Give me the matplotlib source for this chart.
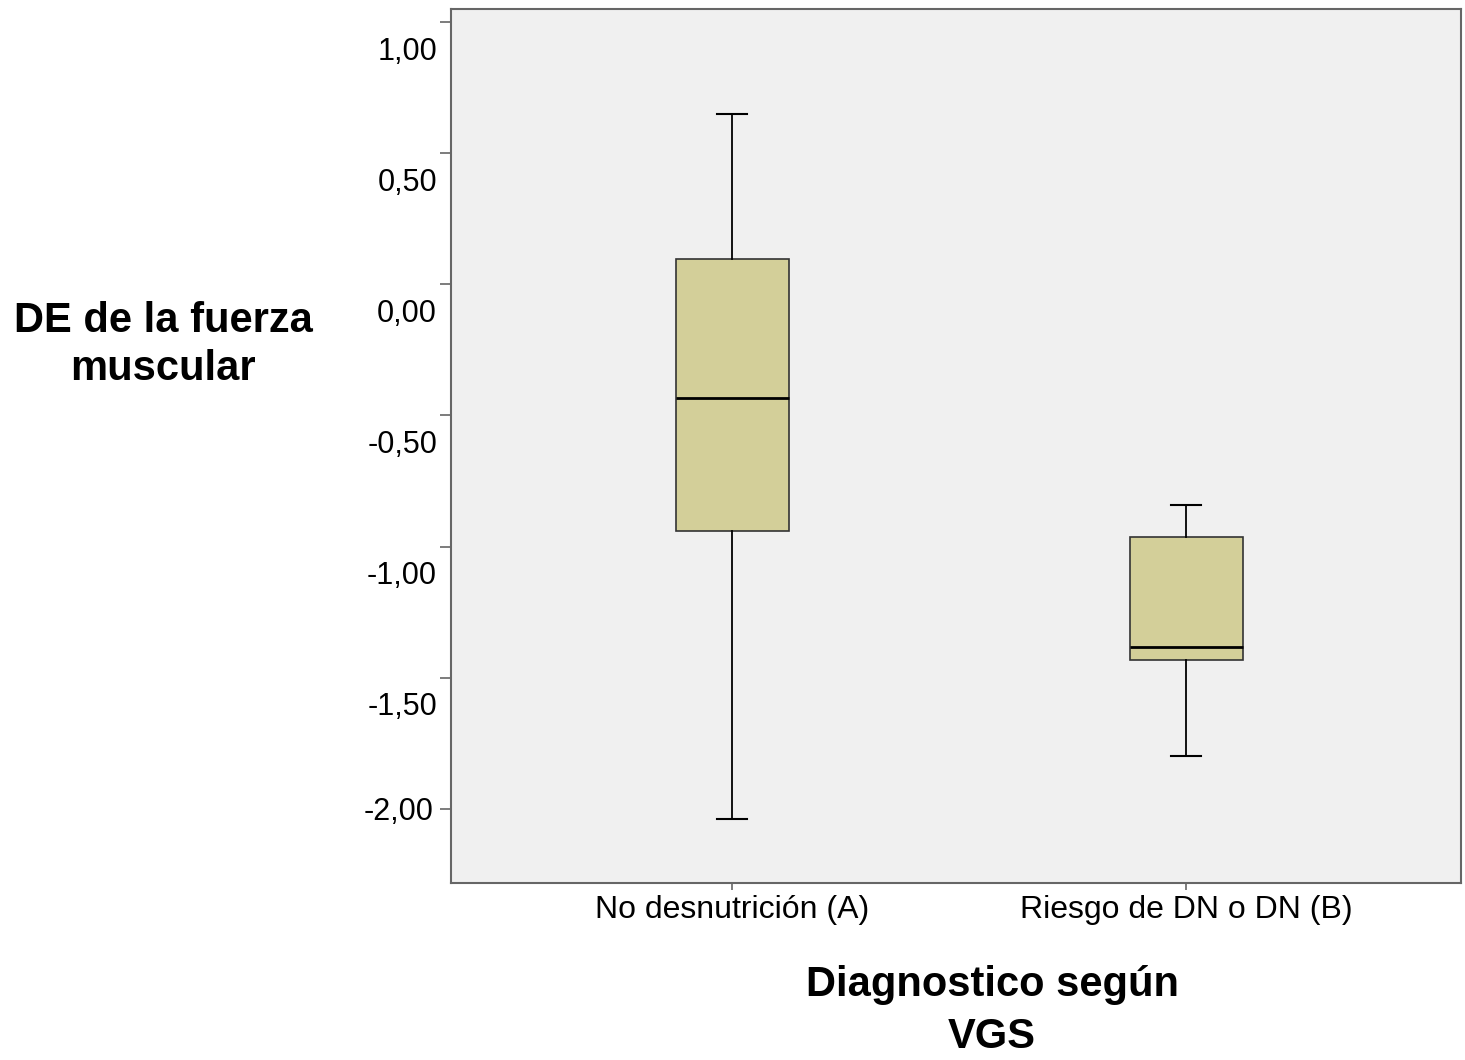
import matplotlib
matplotlib.use("Agg")
import matplotlib.pyplot as plt
import matplotlib.transforms as mtransforms

plt.rcParams['font.family'] = ['Liberation Sans', 'DejaVu Sans']

# box summary
groups = ['No desnutrición (A)', 'Riesgo de DN o DN (B)']
whisk_low = [-2.04, -1.80]
q1 = [-0.942, -1.433]
med = [-0.433, -1.382]
q3 = [0.097, -0.963]
whisk_high = [0.648, -0.842]

yticks = [1.0, 0.5, 0.0, -0.5, -1.0, -1.5, -2.0]
ytick_labels = ['1,00', '0,50', '0,00', '-0,50', '-1,00', '-1,50', '-2,00']

stats = []
for i in range(len(groups)):
    stats.append({'whislo': whisk_low[i], 'q1': q1[i], 'med': med[i],
                  'q3': q3[i], 'whishi': whisk_high[i], 'fliers': [],
                  'label': groups[i]})

fig = plt.figure(figsize=(14.65, 10.6), dpi=100)
ax = fig.add_axes([451/1465, 177.3/1060, 1010/1465, 873.7/1060])
ax.set_facecolor('#F0F0F0')

ax.bxp(stats, positions=[1, 2], widths=0.25, showfliers=False,
       patch_artist=True, capwidths=0.066,
       boxprops=dict(facecolor='#D3CF99', edgecolor='#333333', linewidth=1.2),
       medianprops=dict(color='black', linewidth=2.0),
       whiskerprops=dict(color='black', linewidth=1.3),
       capprops=dict(color='black', linewidth=1.5))

ax.set_xlim(0.38, 2.605)
ax.set_ylim(-2.282, 1.050)

for s in ax.spines.values():
    s.set_color('#666666')
    s.set_linewidth(1.5)

ax.set_yticks(yticks)
ax.set_yticklabels(ytick_labels, fontsize=22)
ax.tick_params(axis='y', length=8, width=1.2, color='#666666', pad=2)
ax.tick_params(axis='x', length=5, width=1.2, color='#666666', pad=4, labelsize=23)

# SPSS draws most value labels a bit under their tick
for lab in ax.get_yticklabels():
    if lab.get_text() == '-2,00':
        off = mtransforms.ScaledTranslation(-0.04, 0.0, fig.dpi_scale_trans)
    else:
        off = mtransforms.ScaledTranslation(0.0, -0.26, fig.dpi_scale_trans)
    lab.set_transform(lab.get_transform() + off)

fig.text(163/1465, 1 - 345/1060, 'DE de la fuerza\nmuscular', fontsize=30,
         fontweight='bold', ha='center', va='center', linespacing=1.25)
fig.text(992/1465, 1 - 1011/1060, 'Diagnostico según\nVGS', fontsize=30,
         fontweight='bold', ha='center', va='center', linespacing=1.4)

fig.savefig('out.png', dpi=100)
